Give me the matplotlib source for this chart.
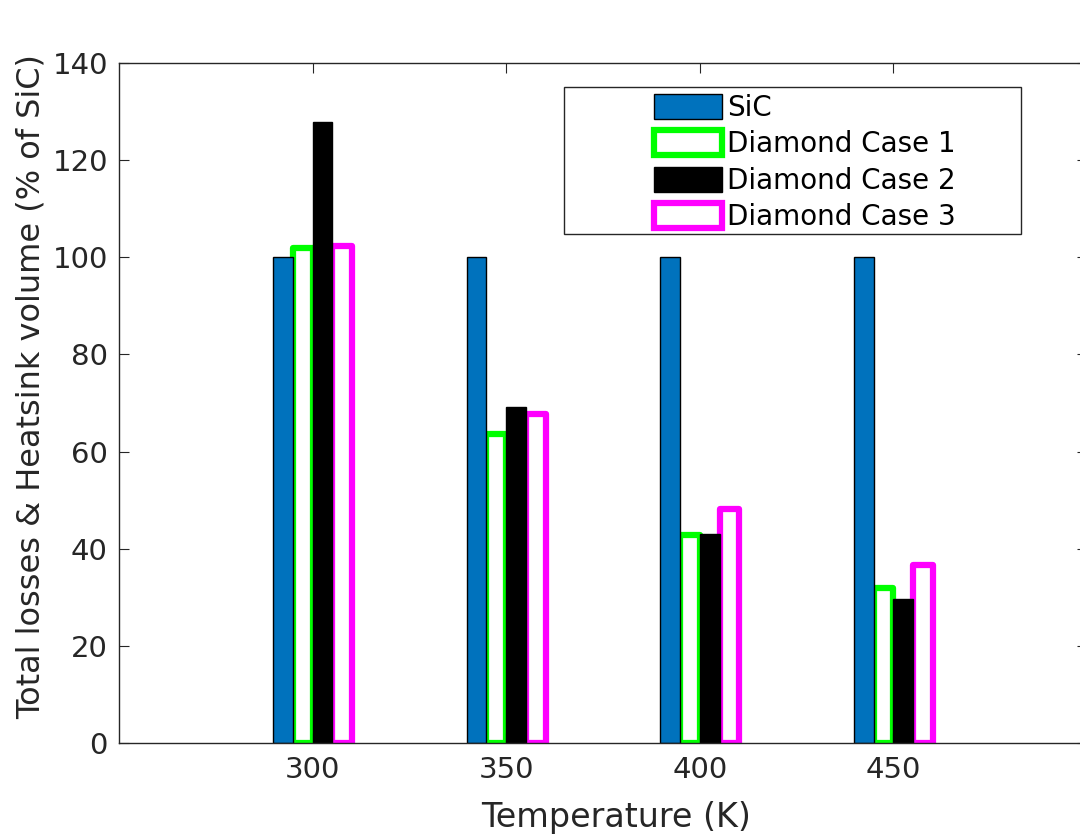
import matplotlib.pyplot as plt
from matplotlib.patches import Rectangle
import numpy as np

plt.rcParams['font.family'] = ['DejaVu Sans']

# data
temps = np.array([300, 350, 400, 450])
sic = [100, 100, 100, 100]
case1 = [101.9, 63.6, 42.8, 31.9]
case2 = [127.8, 69.2, 43.0, 29.6]
case3 = [102.3, 67.8, 48.2, 36.6]
labels = ['SiC', 'Diamond Case 1', 'Diamond Case 2', 'Diamond Case 3']

W, H = 1080, 839
fig = plt.figure(figsize=(W / 100, H / 100), dpi=100)
ax = fig.add_axes([119 / W, 1 - 743 / H, (1087 - 119) / W, (743 - 63) / H])

grey = '#262626'
bw = 5.1
lw_out = 4.5

b1 = ax.bar(temps - 0.5 * bw, case1, bw, facecolor='white', edgecolor='#00ff00',
            linewidth=lw_out, joinstyle='round', zorder=1)
b3 = ax.bar(temps + 1.5 * bw, case3, bw, facecolor='white', edgecolor='#ff00ff',
            linewidth=lw_out, joinstyle='round', zorder=1)
b0 = ax.bar(temps - 1.5 * bw, sic, bw, facecolor='#0072bd', edgecolor='black',
            linewidth=1.0, zorder=2)
b2 = ax.bar(temps + 0.5 * bw, case2, bw, facecolor='black', edgecolor='black',
            linewidth=1.0, zorder=2)

ax.set_xlim(250, 500)
ax.set_ylim(0, 140)
ax.set_xticks(temps)
ax.set_yticks(np.arange(0, 141, 20))
ax.tick_params(direction='in', length=7, width=0.8, colors=grey, labelsize=21,
               top=True, right=True, pad=9)
ax.tick_params(axis='y', pad=8)
for s in ax.spines.values():
    s.set_color(grey)
    s.set_linewidth(1.0)

ax.set_xlabel('Temperature (K)', fontsize=24, color=grey)
ax.xaxis.set_label_coords((616 - 119) / (1087 - 119), -0.085)
ax.set_ylabel('Total losses & Heatsink volume (% of SiC)', fontsize=23, color=grey)
ax.yaxis.set_label_coords(-(119 - 47) / (1087 - 119), 0.524)

# legend box drawn by hand, MATLAB style
fig.add_artist(Rectangle((564 / W, 1 - 234 / H), (1021 - 564) / W, (234 - 87) / H,
                         transform=fig.transFigure, facecolor='white',
                         edgecolor=grey, linewidth=1.0, zorder=3))
leg = fig.legend([b0, b1, b2, b3], labels, loc='upper left',
                 bbox_to_anchor=(654 / W, 1 - 94 / H), frameon=False,
                 fontsize=20, handlelength=2.44, handleheight=1.0,
                 handletextpad=0.18, labelspacing=0.3, borderpad=0,
                 borderaxespad=0)
leg.set_zorder(4)

fig.savefig('out.png', dpi=100)
